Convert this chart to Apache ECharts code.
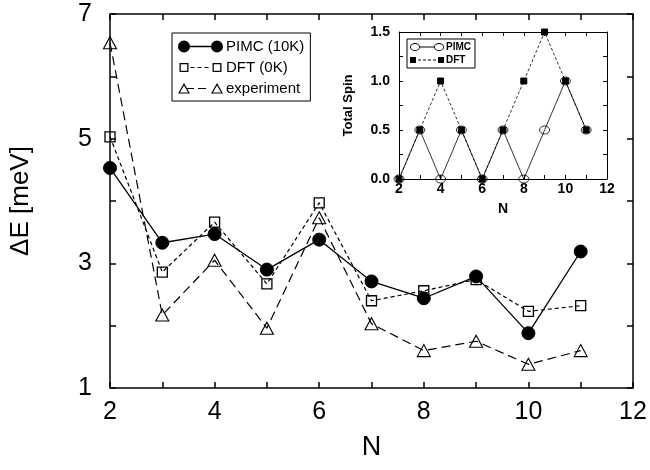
<!DOCTYPE html>
<html lang="en">
<head>
<meta charset="UTF-8">
<title>Energy gap and total spin</title>
<style>
  body { margin: 0; background: #fff; }
  #chart { width: 650px; height: 470px; }
</style>
</head>
<body>
<div id="chart"></div>
<script src="https://cdn.jsdelivr.net/npm/echarts@6/dist/echarts.min.js"></script>
<script>
// electron number N
var nVals = [2, 3, 4, 5, 6, 7, 8, 9, 10, 11];

// main plot: energy gap in meV
var pimcGap = [4.53, 3.33, 3.47, 2.90, 3.38, 2.71, 2.44, 2.79, 1.88, 3.19];
var dftGap  = [5.03, 2.86, 3.66, 2.67, 3.97, 2.40, 2.56, 2.74, 2.23, 2.32];
var expGap  = [6.54, 2.17, 3.05, 1.96, 3.73, 2.03, 1.60, 1.75, 1.38, 1.60];

// inset: total spin
var pimcSpin = [0, 0.5, 0, 0.5, 0, 0.5, 0, 0.5, 1.0, 0.5];
var dftSpin  = [0, 0.5, 1.0, 0.5, 0, 0.5, 1.0, 1.5, 1.0, 0.5];

function pairs(ys) {
  return nVals.map(function (n, i) { return [n, ys[i]]; });
}

var FONT = 'Liberation Sans';

// legend icons: symbol - line - symbol, like the plotting program draws them
// (tiny corner specks pin the bounding box so the icon is not rescaled)
var pin45 = 'M0,0 L0.01,0 L0,0.01 Z M45,12 L44.99,12 L45,11.99 Z ';
var iconPimc = 'path://' + pin45 +
  'M0,6 A6,6 0 1,1 12,6 A6,6 0 1,1 0,6 Z ' +
  'M11,5.35 L34,5.35 L34,6.65 L11,6.65 Z ' +
  'M33,6 A6,6 0 1,1 45,6 A6,6 0 1,1 33,6 Z';
var iconDft = 'path://' + pin45 +
  'M1.5,1.5 L10.5,1.5 L10.5,10.5 L1.5,10.5 Z M2.8,2.8 L2.8,9.2 L9.2,9.2 L9.2,2.8 Z ' +
  'M34.5,1.5 L43.5,1.5 L43.5,10.5 L34.5,10.5 Z M35.8,2.8 L35.8,9.2 L42.2,9.2 L42.2,2.8 Z ' +
  'M12.5,5.4 L16.5,5.4 L16.5,6.6 L12.5,6.6 Z ' +
  'M19.5,5.4 L23.5,5.4 L23.5,6.6 L19.5,6.6 Z ' +
  'M26.5,5.4 L30.5,5.4 L30.5,6.6 L26.5,6.6 Z';
var iconExp = 'path://' + pin45 +
  'M6,0.5 L12,11 L0,11 Z M6,2.9 L1.9,9.9 L10.1,9.9 Z ' +
  'M39,0.5 L45,11 L33,11 Z M39,2.9 L34.9,9.9 L43.1,9.9 Z ' +
  'M9,5.4 L16,5.4 L16,6.6 L9,6.6 Z ' +
  'M20,5.4 L28,5.4 L28,6.6 L20,6.6 Z';
var pin34 = 'M0,0 L0.01,0 L0,0.01 Z M34,8 L33.99,8 L34,7.99 Z ';
var iconPimcIn = 'path://' + pin34 +
  'M0,4 A5,4 0 1,1 10,4 A5,4 0 1,1 0,4 Z M0.9,4 A4.1,3.1 0 1,0 9.1,4 A4.1,3.1 0 1,0 0.9,4 Z ' +
  'M10,3.6 L24,3.6 L24,4.4 L10,4.4 Z ' +
  'M24,4 A5,4 0 1,1 34,4 A5,4 0 1,1 24,4 Z M24.9,4 A4.1,3.1 0 1,0 33.1,4 A4.1,3.1 0 1,0 24.9,4 Z';
var iconDftIn = 'path://' + pin34 +
  'M0,1 L6,1 L6,7 L0,7 Z M28,1 L34,1 L34,7 L28,7 Z ' +
  'M8,3.6 L11,3.6 L11,4.4 L8,4.4 Z M13,3.6 L16,3.6 L16,4.4 L13,4.4 Z ' +
  'M18,3.6 L21,3.6 L21,4.4 L18,4.4 Z M23,3.6 L26,3.6 L26,4.4 L23,4.4 Z';

var iconStyle = { color: '#000', borderWidth: 0, opacity: 1 };

// frame helper: axis with inward ticks (major + one minor between) and optional labels
function frameAxis(opt) {
  var lw = opt.lw || 1.5, tl = opt.tl || 6;
  return Object.assign({
    type: 'value',
    axisLine: { show: true, onZero: false, lineStyle: { color: '#000', width: lw } },
    axisTick: { show: true, inside: true, length: tl, lineStyle: { color: '#000', width: lw } },
    minorTick: { show: opt.minor !== false, splitNumber: 2, length: tl, lineStyle: { color: '#000', width: lw } },
    splitLine: { show: false },
    minorSplitLine: { show: false },
    axisLabel: { show: false }
  }, opt.extra);
}

var chart = echarts.init(document.getElementById('chart'));

var option = {
  backgroundColor: '#fff',
  animation: false,
  grid: [
    { left: 107, top: 14, width: 526, height: 374 },
    { left: 399, top: 32, width: 208, height: 147 }
  ],
  legend: [
    {
      data: [
        { name: 'PIMC (10K)', icon: iconPimc, itemStyle: iconStyle },
        { name: 'DFT (0K)', icon: iconDft, itemStyle: iconStyle },
        { name: 'experiment', icon: iconExp, itemStyle: iconStyle }
      ],
      orient: 'vertical', left: 172, top: 33,
      itemWidth: 45, itemHeight: 12, itemGap: 6,
      padding: [6, 6, 5, 6],
      borderColor: '#000', borderWidth: 1,
      itemStyle: iconStyle,
      textStyle: { fontFamily: FONT, fontSize: 15, color: '#000', padding: [0, 0, 0, -2] }
    },
    {
      data: [
        { name: 'PIMC', icon: iconPimcIn, itemStyle: iconStyle },
        { name: 'DFT', icon: iconDftIn, itemStyle: iconStyle }
      ],
      orient: 'vertical', left: 407, top: 39,
      itemWidth: 34, itemHeight: 8, itemGap: 3,
      padding: [3, 4, 3, 3],
      borderColor: '#000', borderWidth: 1,
      itemStyle: iconStyle,
      textStyle: { fontFamily: FONT, fontSize: 10, fontWeight: 'bold', color: '#000', padding: [0, 0, 0, -3] }
    }
  ],
  xAxis: [
    frameAxis({ extra: {
      gridIndex: 0, position: 'bottom', min: 2, max: 12, interval: 2,
      name: 'N', nameLocation: 'middle', nameGap: 46,
      nameTextStyle: { fontFamily: FONT, fontSize: 27, color: '#000' },
      axisLabel: { show: true, margin: 12, fontFamily: FONT, fontSize: 25, color: '#000' }
    } }),
    frameAxis({ extra: { gridIndex: 0, position: 'top', min: 2, max: 12, interval: 2 } }),
    frameAxis({ lw: 1, tl: 4, extra: {
      gridIndex: 1, position: 'bottom', min: 2, max: 12, interval: 2,
      name: 'N', nameLocation: 'middle', nameGap: 23,
      nameTextStyle: { fontFamily: FONT, fontSize: 14, fontWeight: 'bold', color: '#000' },
      axisLabel: { show: true, margin: 3, fontFamily: FONT, fontSize: 14, fontWeight: 'bold', color: '#000' }
    } }),
    frameAxis({ lw: 1, tl: 4, extra: { gridIndex: 1, position: 'top', min: 2, max: 12, interval: 2 } })
  ],
  yAxis: [
    frameAxis({ minor: false, extra: {
      gridIndex: 0, position: 'left', min: 1, max: 7, interval: 1,
      name: '\u0394E [meV]', nameLocation: 'middle', nameGap: 76, nameRotate: 90,
      nameTextStyle: { fontFamily: FONT, fontSize: 26, color: '#000' },
      axisLabel: {
        show: true, margin: 18, fontFamily: FONT, fontSize: 25, color: '#000',
        formatter: function (v) { return Math.round(v) % 2 === 1 ? String(Math.round(v)) : ''; }
      }
    } }),
    frameAxis({ minor: false, extra: { gridIndex: 0, position: 'right', min: 1, max: 7, interval: 1 } }),
    frameAxis({ lw: 1, tl: 4, extra: {
      gridIndex: 1, position: 'left', min: 0, max: 1.5, interval: 0.5,
      name: 'Total Spin', nameLocation: 'middle', nameGap: 44, nameRotate: 90,
      nameTextStyle: { fontFamily: FONT, fontSize: 13, fontWeight: 'bold', color: '#000' },
      axisLabel: {
        show: true, margin: 9, fontFamily: FONT, fontSize: 14, fontWeight: 'bold', color: '#000',
        formatter: function (v) { return v.toFixed(1); }
      }
    } }),
    frameAxis({ lw: 1, tl: 4, extra: { gridIndex: 1, position: 'right', min: 0, max: 1.5, interval: 0.5 } })
  ],
  series: [
    {
      name: 'PIMC (10K)', type: 'line', xAxisIndex: 0, yAxisIndex: 0,
      data: pairs(pimcGap),
      symbol: 'circle', symbolSize: 13,
      lineStyle: { color: '#000', width: 1.3 },
      itemStyle: { color: '#000', borderColor: '#000' }
    },
    {
      name: 'DFT (0K)', type: 'line', xAxisIndex: 0, yAxisIndex: 0,
      data: pairs(dftGap),
      symbol: 'rect', symbolSize: 10,
      lineStyle: { color: '#000', width: 1.2, type: [4, 3] },
      itemStyle: { color: 'rgba(255,255,255,0)', borderColor: '#000', borderWidth: 1.3 }
    },
    {
      name: 'experiment', type: 'line', xAxisIndex: 0, yAxisIndex: 0,
      data: pairs(expGap),
      symbol: 'triangle', symbolSize: [13, 12],
      lineStyle: { color: '#000', width: 1.2, type: [9, 5] },
      itemStyle: { color: 'rgba(255,255,255,0)', borderColor: '#000', borderWidth: 1.1 }
    },
    {
      name: 'PIMC', type: 'line', xAxisIndex: 2, yAxisIndex: 2,
      data: pairs(pimcSpin),
      symbol: 'circle', symbolSize: [10, 8],
      lineStyle: { color: '#000', width: 0.8 },
      itemStyle: { color: 'rgba(255,255,255,0)', borderColor: '#000', borderWidth: 0.8 }
    },
    {
      name: 'DFT', type: 'line', xAxisIndex: 2, yAxisIndex: 2,
      data: pairs(dftSpin),
      symbol: 'rect', symbolSize: 6,
      lineStyle: { color: '#000', width: 0.8, type: [3, 2] },
      itemStyle: { color: '#000', borderColor: '#000' }
    }
  ]
};

chart.setOption(option);
</script>
</body>
</html>
